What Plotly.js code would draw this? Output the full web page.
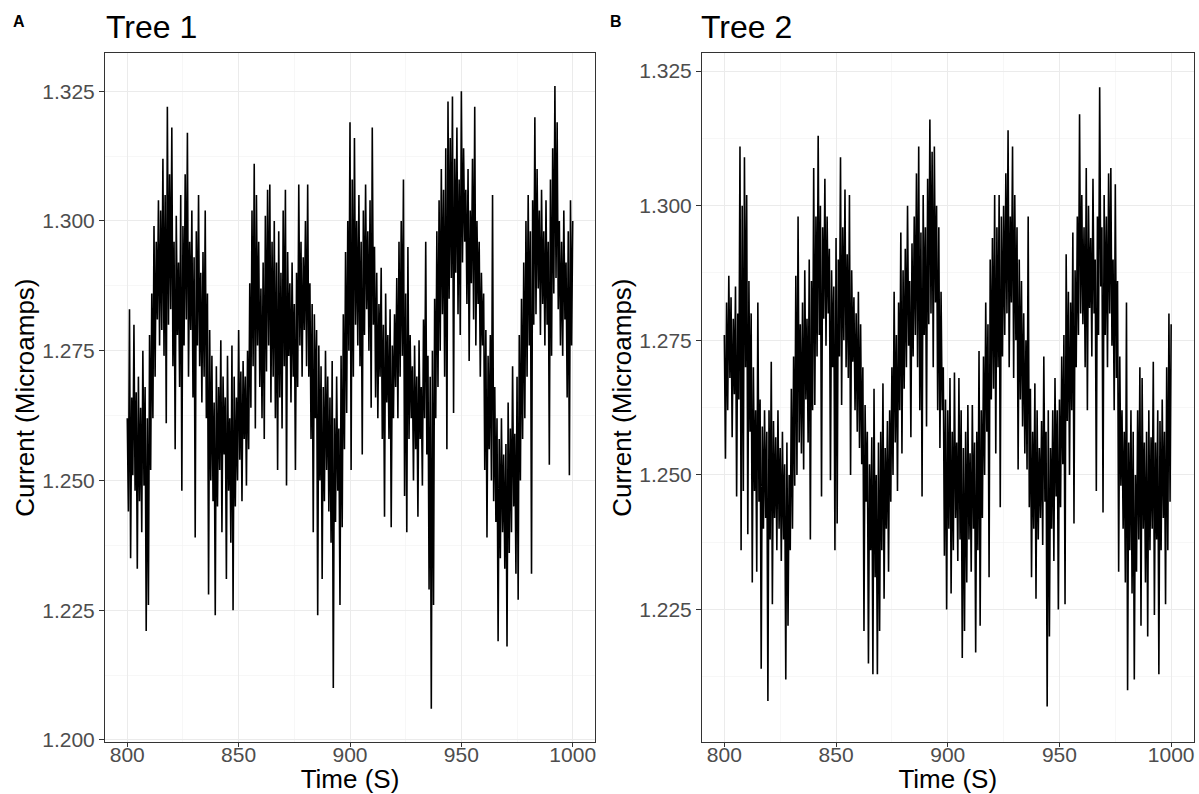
<!DOCTYPE html>
<html><head><meta charset="utf-8">
<script src="https://cdn.plot.ly/plotly-3.0.1.min.js"></script>
<style>html,body{margin:0;padding:0;background:#fff}#chart{width:1199px;height:794px}</style>
</head><body><div id="chart"></div>
<script>
// Sampling of both recordings (seconds)
const tStart = 800;
const tStep = 0.5;

// Tree 1 current (microamps), every 0.5 s
const tree1Current = [
1.262,1.244,1.283,1.235,1.266,1.251,1.280,1.248,1.267,1.233,
1.270,1.246,1.264,1.240,1.275,1.249,1.268,1.221,1.262,1.226,
1.278,1.252,1.286,1.262,1.299,1.270,1.296,1.281,1.304,1.276,
1.302,1.279,1.312,1.274,1.305,1.261,1.322,1.280,1.309,1.283,
1.318,1.272,1.296,1.256,1.301,1.278,1.292,1.268,1.305,1.248,
1.299,1.276,1.309,1.281,1.317,1.270,1.296,1.279,1.302,1.266,
1.293,1.239,1.298,1.276,1.305,1.272,1.290,1.265,1.294,1.270,
1.302,1.262,1.286,1.228,1.279,1.250,1.274,1.246,1.265,1.224,
1.272,1.245,1.268,1.252,1.277,1.240,1.270,1.255,1.266,1.231,
1.274,1.248,1.262,1.238,1.276,1.225,1.270,1.245,1.266,1.250,
1.279,1.254,1.271,1.246,1.273,1.258,1.270,1.249,1.275,1.256,
1.288,1.264,1.302,1.272,1.311,1.260,1.305,1.276,1.296,1.268,
1.287,1.262,1.292,1.258,1.301,1.271,1.306,1.276,1.307,1.265,
1.296,1.270,1.300,1.262,1.292,1.252,1.298,1.266,1.290,1.260,
1.302,1.272,1.306,1.249,1.294,1.274,1.288,1.265,1.292,1.270,
1.284,1.252,1.290,1.268,1.307,1.276,1.296,1.270,1.293,1.279,
1.300,1.272,1.307,1.270,1.288,1.258,1.284,1.240,1.282,1.262,
1.279,1.224,1.276,1.250,1.272,1.231,1.268,1.246,1.275,1.252,
1.270,1.244,1.266,1.238,1.273,1.210,1.262,1.242,1.270,1.248,
1.260,1.226,1.274,1.241,1.282,1.256,1.294,1.263,1.300,1.275,
1.319,1.252,1.308,1.270,1.316,1.280,1.300,1.276,1.305,1.272,
1.296,1.255,1.302,1.278,1.307,1.283,1.298,1.275,1.304,1.264,
1.318,1.280,1.295,1.266,1.290,1.262,1.284,1.270,1.291,1.258,
1.280,1.243,1.286,1.265,1.278,1.258,1.283,1.241,1.276,1.262,
1.282,1.268,1.289,1.262,1.296,1.270,1.300,1.274,1.308,1.247,
1.286,1.240,1.295,1.258,1.278,1.262,1.272,1.250,1.276,1.256,
1.270,1.243,1.277,1.258,1.268,1.249,1.281,1.262,1.296,1.255,
1.274,1.229,1.270,1.206,1.275,1.226,1.285,1.262,1.298,1.268,
1.304,1.275,1.310,1.282,1.306,1.270,1.314,1.256,1.323,1.285,
1.316,1.289,1.324,1.263,1.312,1.290,1.318,1.282,1.308,1.278,
1.325,1.292,1.314,1.296,1.306,1.284,1.310,1.273,1.302,1.288,
1.312,1.281,1.322,1.276,1.300,1.284,1.296,1.270,1.290,1.276,
1.286,1.252,1.279,1.239,1.274,1.256,1.278,1.250,1.305,1.246,
1.268,1.242,1.262,1.219,1.258,1.235,1.262,1.240,1.255,1.233,
1.257,1.218,1.265,1.236,1.260,1.240,1.272,1.245,1.259,1.232,
1.270,1.227,1.278,1.250,1.285,1.258,1.292,1.262,1.300,1.270,
1.305,1.276,1.298,1.232,1.304,1.280,1.320,1.282,1.310,1.287,
1.302,1.278,1.306,1.284,1.298,1.276,1.304,1.280,1.296,1.253,
1.308,1.274,1.314,1.286,1.326,1.289,1.319,1.283,1.300,1.276,
1.296,1.274,1.302,1.281,1.292,1.266,1.298,1.251,1.304,1.276,
1.300
];

// Tree 2 current (microamps), every 0.5 s
const tree2Current = [
1.276,1.253,1.282,1.262,1.287,1.268,1.283,1.257,1.279,1.265,
1.285,1.246,1.280,1.264,1.311,1.236,1.300,1.247,1.309,1.270,
1.302,1.239,1.286,1.258,1.280,1.230,1.270,1.247,1.262,1.232,
1.282,1.245,1.264,1.214,1.259,1.240,1.262,1.242,1.258,1.208,
1.262,1.238,1.271,1.226,1.260,1.242,1.257,1.236,1.262,1.240,
1.255,1.234,1.258,1.238,1.252,1.212,1.256,1.222,1.250,1.236,
1.266,1.240,1.272,1.248,1.287,1.250,1.298,1.256,1.278,1.254,
1.282,1.251,1.288,1.264,1.279,1.256,1.290,1.238,1.286,1.262,
1.307,1.263,1.298,1.272,1.313,1.276,1.300,1.246,1.296,1.279,
1.305,1.274,1.298,1.280,1.292,1.249,1.288,1.270,1.285,1.236,
1.294,1.241,1.290,1.272,1.309,1.263,1.296,1.275,1.303,1.270,
1.291,1.268,1.302,1.250,1.288,1.271,1.283,1.262,1.280,1.258,
1.284,1.255,1.278,1.252,1.270,1.221,1.263,1.245,1.258,1.215,
1.252,1.236,1.257,1.213,1.266,1.231,1.250,1.213,1.256,1.221,
1.258,1.236,1.267,1.227,1.255,1.240,1.260,1.232,1.262,1.245,
1.270,1.250,1.284,1.256,1.276,1.247,1.282,1.262,1.295,1.254,
1.288,1.266,1.292,1.270,1.300,1.274,1.286,1.257,1.293,1.272,
1.298,1.276,1.306,1.270,1.311,1.262,1.295,1.246,1.302,1.276,
1.296,1.259,1.305,1.278,1.316,1.280,1.310,1.270,1.311,1.282,
1.300,1.262,1.296,1.255,1.284,1.262,1.270,1.235,1.264,1.225,
1.262,1.240,1.268,1.228,1.258,1.236,1.269,1.242,1.256,1.234,
1.268,1.238,1.262,1.216,1.255,1.221,1.258,1.230,1.263,1.238,
1.254,1.232,1.263,1.240,1.256,1.217,1.258,1.236,1.273,1.222,
1.262,1.242,1.272,1.250,1.282,1.258,1.278,1.231,1.290,1.264,
1.294,1.266,1.302,1.254,1.296,1.270,1.302,1.244,1.298,1.272,
1.300,1.276,1.306,1.280,1.314,1.270,1.298,1.282,1.311,1.268,
1.302,1.275,1.296,1.251,1.290,1.264,1.286,1.259,1.280,1.254,
1.275,1.251,1.298,1.244,1.266,1.231,1.258,1.240,1.267,1.227,
1.262,1.238,1.255,1.242,1.260,1.237,1.272,1.245,1.258,1.207,
1.262,1.220,1.255,1.240,1.262,1.234,1.268,1.246,1.262,1.225,
1.264,1.244,1.272,1.252,1.276,1.226,1.291,1.260,1.284,1.250,
1.282,1.262,1.295,1.241,1.288,1.270,1.298,1.276,1.317,1.280,
1.302,1.278,1.296,1.270,1.307,1.262,1.300,1.281,1.294,1.272,
1.305,1.280,1.290,1.247,1.298,1.276,1.322,1.285,1.296,1.243,
1.302,1.276,1.298,1.270,1.306,1.280,1.307,1.274,1.290,1.262,
1.304,1.268,1.286,1.232,1.272,1.248,1.262,1.240,1.258,1.230,
1.282,1.210,1.256,1.236,1.262,1.228,1.258,1.212,1.250,1.232,
1.262,1.238,1.270,1.222,1.268,1.240,1.256,1.230,1.258,1.220,
1.262,1.236,1.257,1.240,1.271,1.224,1.256,1.238,1.262,1.213,
1.260,1.236,1.264,1.242,1.258,1.226,1.270,1.236,1.280,1.245,
1.278
];

const panelTitles = ['Tree 1', 'Tree 2'];
const panelTags = ['A', 'B'];
const xTitle = 'Time (S)';
const yTitle = 'Current (Microamps)';
const xTickVals = [800, 850, 900, 950, 1000];
const yTickVals = [1.200, 1.225, 1.250, 1.275, 1.300, 1.325];
const yTickText = ['1.200', '1.225', '1.250', '1.275', '1.300', '1.325'];

const W = 1199, H = 794;
const px = v => v / W;
const py = v => 1 - v / H;

const FONT = 'Liberation Sans, Arial, sans-serif';
const GRID = '#ebebeb';
const BORDER = '#333333';

function xAxis(domain, anchor) {
  return {
    domain: domain, anchor: anchor, range: [790, 1010],
    tickmode: 'array', tickvals: xTickVals, ticktext: xTickVals.map(String),
    ticks: 'outside', ticklen: 4, tickwidth: 1, tickcolor: BORDER,
    ticklabelstandoff: -10,
    tickfont: {family: FONT, size: 21, color: '#4d4d4d'},
    showgrid: true, gridcolor: GRID, gridwidth: 1,
    minor: {dtick: 25, tick0: 800, showgrid: true, gridcolor: '#f2f2f2', gridwidth: 0.6, ticks: ''},
    showline: true, linecolor: BORDER, linewidth: 1, mirror: true,
    zeroline: false,
    title: {text: xTitle, font: {family: FONT, size: 26, color: '#000'}, standoff: 8}
  };
}
function yAxis(domain, anchor, range) {
  return {
    domain: domain, anchor: anchor, range: range,
    tickmode: 'array', tickvals: yTickVals, ticktext: yTickText,
    ticks: 'outside', ticklen: 5, tickwidth: 1, tickcolor: BORDER,
    tickfont: {family: FONT, size: 21, color: '#4d4d4d'},
    showgrid: true, gridcolor: GRID, gridwidth: 1,
    minor: {dtick: 0.0125, tick0: 1.2, showgrid: true, gridcolor: '#f2f2f2', gridwidth: 0.6, ticks: ''},
    showline: true, linecolor: BORDER, linewidth: 1, mirror: true,
    zeroline: false,
    title: {text: yTitle, font: {family: FONT, size: 26, color: '#000'}, standoff: 0}
  };
}

const yDom = [py(742), py(53.3)];
const traces = [
  {type: 'scatter', mode: 'lines', x0: tStart, dx: tStep, y: tree1Current,
   xaxis: 'x', yaxis: 'y', line: {color: '#000', width: 1.6}, hoverinfo: 'x+y'},
  {type: 'scatter', mode: 'lines', x0: tStart, dx: tStep, y: tree2Current,
   xaxis: 'x2', yaxis: 'y2', line: {color: '#000', width: 1.6}, hoverinfo: 'x+y'}
];

const layout = {
  width: W, height: H,
  margin: {l: 0, r: 0, t: 0, b: 0},
  paper_bgcolor: '#fff', plot_bgcolor: '#fff',
  showlegend: false,
  font: {family: FONT},
  xaxis: xAxis([px(105), px(595)], 'y'),
  yaxis: yAxis(yDom, 'x', [1.1996, 1.3323]),
  xaxis2: xAxis([px(702), px(1193.5)], 'y2'),
  yaxis2: yAxis(yDom, 'x2', [1.2004, 1.3283]),
  annotations: [
    {text: panelTitles[0], xref: 'paper', yref: 'paper', x: px(104), y: py(27), xanchor: 'left', yanchor: 'middle',
     showarrow: false, font: {family: FONT, size: 32, color: '#000'}},
    {text: panelTitles[1], xref: 'paper', yref: 'paper', x: px(699), y: py(27), xanchor: 'left', yanchor: 'middle',
     showarrow: false, font: {family: FONT, size: 32, color: '#000'}},
    {text: '<b>' + panelTags[0] + '</b>', xref: 'paper', yref: 'paper', x: px(19), y: py(22), xanchor: 'center', yanchor: 'middle',
     showarrow: false, font: {family: FONT, size: 16, color: '#000'}},
    {text: '<b>' + panelTags[1] + '</b>', xref: 'paper', yref: 'paper', x: px(616), y: py(22), xanchor: 'center', yanchor: 'middle',
     showarrow: false, font: {family: FONT, size: 16, color: '#000'}}
  ]
};

Plotly.newPlot('chart', traces, layout, {displayModeBar: false, staticPlot: true});
</script>
</body></html>
